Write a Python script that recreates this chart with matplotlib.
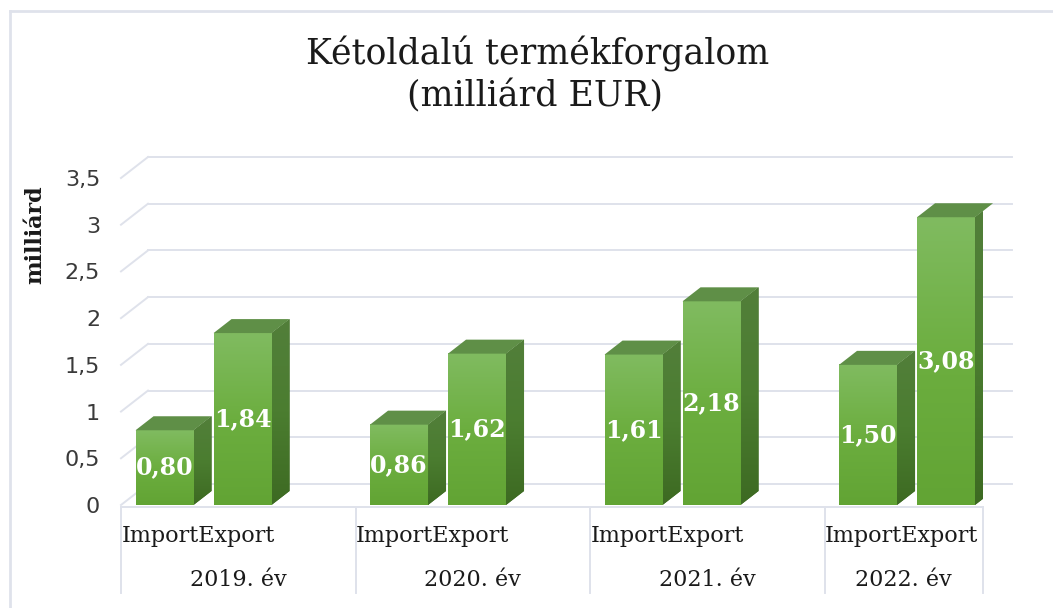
import numpy as np
import matplotlib
matplotlib.use("Agg")
import matplotlib.pyplot as plt
from matplotlib.patches import Polygon
from matplotlib.colors import LinearSegmentedColormap
from matplotlib.lines import Line2D

# ---- data ----
categories = ["2019. év", "2020. év", "2021. év", "2022. év"]
series = ["Import", "Export"]
import_vals = [0.80, 0.86, 1.61, 1.50]
export_vals = [1.84, 1.62, 2.18, 3.08]
y_ticks = [0, 0.5, 1, 1.5, 2, 2.5, 3, 3.5]
title = "Kétoldalú termékforgalom\n(milliárd EUR)"
y_label = "milliárd"

# ---- figure ----
W, H = 1053, 608
fig = plt.figure(figsize=(W / 100, H / 100), dpi=100)
fig.patch.set_facecolor("white")

ax_left_px, ax_right_px = 121, 983
ax_bottom_px, ax_top_px = 505, 178
ax = fig.add_axes([ax_left_px / W, (H - ax_bottom_px) / H,
                   (ax_right_px - ax_left_px) / W, (ax_bottom_px - ax_top_px) / H])
xmin = -0.5
unit_px = 234.5
xmax = xmin + (ax_right_px - ax_left_px) / unit_px
ax.set_xlim(xmin, xmax)
ax.set_ylim(0, 3.5)
for s in ax.spines.values():
    s.set_visible(False)
ax.patch.set_alpha(0)

px_y = 93.43  # pixels per unit value
wall_dx, wall_dy = 27 / unit_px, 21 / px_y
bar_dx, bar_dy = 18 / unit_px, 14 / px_y
bar_w = 58 / unit_px
bar_gap = 20 / unit_px
group_shift = -0.148
grid_c = "#dfe2eb"
x_back_end = xmin + (1012 - ax_left_px) / unit_px

# back wall gridlines + left wall diagonals
for v in y_ticks:
    ax.plot([xmin + wall_dx, x_back_end], [v + wall_dy, v + wall_dy],
            color=grid_c, lw=1.4, clip_on=False, zorder=1)
    ax.plot([xmin, xmin + wall_dx], [v, v + wall_dy],
            color=grid_c, lw=1.4, clip_on=False, zorder=1)

# y ticks
ax.set_yticks(y_ticks)
ax.set_yticklabels([f"{t:g}".replace(".", ",") for t in y_ticks],
                   fontsize=16, color="#3a3a3a", family="DejaVu Sans")
ax.tick_params(axis="y", length=0, pad=15)
ax.set_xticks([])

# category axis
cell_edges = [xmin + k for k in range(len(categories))] + [xmax]
ax.plot([xmin, xmax], [-0.02, -0.02], color=grid_c, lw=1.4, clip_on=False, zorder=1)
y_div_bottom = -(593 - ax_bottom_px) / px_y
for e in cell_edges:
    ax.plot([e, e], [-0.02, y_div_bottom], color=grid_c, lw=1.4, clip_on=False, zorder=1)
for i, cat in enumerate(categories):
    l, r = cell_edges[i], cell_edges[i + 1]
    ax.text(l + 0.002, -0.33, "".join(series), ha="left", va="center",
            fontsize=16, family="DejaVu Serif", color="#1a1a1a", clip_on=False)
    ax.text((l + r) / 2, -0.80, cat, ha="center", va="center",
            fontsize=16, family="DejaVu Serif", color="#1a1a1a", clip_on=False)

front_cmap = LinearSegmentedColormap.from_list("front", ["#62a434", "#6cae3f", "#80bb60"])
side_cmap = LinearSegmentedColormap.from_list("side", ["#3d6a22", "#4b7d30", "#527f3a"])
top_color = "#5f8f47"

def draw_bar(x0, v, z):
    # front face
    ax.bar(x0, v, width=bar_w, align="edge", color="#6aad3c", zorder=z, lw=0)
    grad = np.linspace(0, 1, 100).reshape(-1, 1)
    ax.imshow(grad, extent=[x0, x0 + bar_w, 0, v], origin="lower", aspect="auto",
              cmap=front_cmap, zorder=z + 0.1, interpolation="bilinear")
    # side face
    side = Polygon([(x0 + bar_w, 0), (x0 + bar_w + bar_dx, bar_dy),
                    (x0 + bar_w + bar_dx, v + bar_dy), (x0 + bar_w, v)],
                   closed=True, facecolor="#466f2c", lw=0, zorder=z)
    ax.add_patch(side)
    im = ax.imshow(grad, extent=[x0 + bar_w, x0 + bar_w + bar_dx, 0, v + bar_dy],
                   origin="lower", aspect="auto", cmap=side_cmap, zorder=z + 0.1,
                   interpolation="bilinear")
    im.set_clip_path(side)
    # top face
    top = Polygon([(x0, v), (x0 + bar_w, v), (x0 + bar_w + bar_dx, v + bar_dy),
                   (x0 + bar_dx, v + bar_dy)], closed=True,
                  facecolor=top_color, lw=0, zorder=z + 0.1, clip_on=False)
    ax.add_patch(top)

for i in range(len(categories)):
    base = i + group_shift
    xi = base - bar_gap / 2 - bar_w
    xe = base + bar_gap / 2
    draw_bar(xi, import_vals[i], 3)
    draw_bar(xe, export_vals[i], 3)
    for x0, v in [(xi, import_vals[i]), (xe, export_vals[i])]:
        ax.text(x0 + bar_w / 2, v / 2, f"{v:.2f}".replace(".", ","),
                ha="center", va="center", color="white", fontsize=17,
                fontweight="bold", family="DejaVu Serif", zorder=6)

ax.set_xlim(xmin, xmax)
ax.set_ylim(0, 3.5)

# title and axis label
fig.text(538 / W, 1 - 65 / H, title.split("\n")[0], ha="center", va="baseline",
         fontsize=25, family="DejaVu Serif", color="#1a1a1a")
fig.text(535 / W, 1 - 106 / H, title.split("\n")[1], ha="center", va="baseline",
         fontsize=25, family="DejaVu Serif", color="#1a1a1a")
fig.text(35 / W, 1 - 235 / H, y_label, ha="center", va="center", rotation=90,
         fontsize=16, fontweight="bold", family="DejaVu Serif", color="#1a1a1a")

# chart border
fig.add_artist(Line2D([10 / W, 10 / W], [0, 1 - 11 / H], transform=fig.transFigure,
                      color=grid_c, lw=2))
fig.add_artist(Line2D([10 / W, 1], [1 - 11 / H, 1 - 11 / H], transform=fig.transFigure,
                      color=grid_c, lw=2))

fig.savefig("out.png", dpi=100)
